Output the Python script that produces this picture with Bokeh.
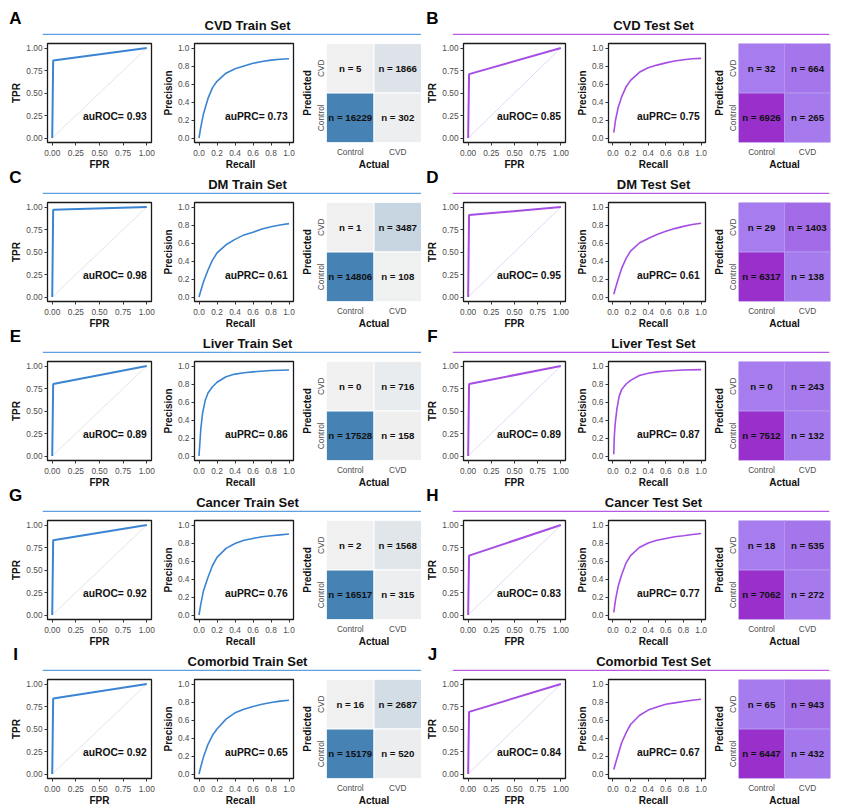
from bokeh.plotting import figure
from bokeh.layouts import row, column
from bokeh.models import (Range1d, FactorRange, FixedTicker, NumeralTickFormatter,
                          Span, Label, LinearColorMapper, ColumnDataSource)
from bokeh.transform import transform
from bokeh.embed import file_html
from bokeh.resources import INLINE
from bokeh.core.properties import value

FONT = "Liberation Sans"

# ---------------- data ----------------
letters = ["A", "B", "C", "D", "E", "F", "G", "H", "I", "J"]
titles = ["CVD Train Set", "CVD Test Set", "DM Train Set", "DM Test Set",
          "Liver Train Set", "Liver Test Set", "Cancer Train Set", "Cancer Test Set",
          "Comorbid Train Set", "Comorbid Test Set"]
is_test = [False, True, False, True, False, True, False, True, False, True]

auroc = [0.93, 0.85, 0.98, 0.95, 0.89, 0.89, 0.92, 0.83, 0.92, 0.84]
auprc = [0.73, 0.75, 0.61, 0.61, 0.86, 0.87, 0.76, 0.77, 0.65, 0.67]

roc_fpr = [[0, 0.01, 1.0]] * 10
roc_tpr = [[0, 0.86, 1.0], [0, 0.71, 1.0], [0, 0.97, 1.0], [0, 0.91, 1.0],
           [0, 0.80, 1.0], [0, 0.80, 1.0], [0, 0.83, 1.0], [0, 0.66, 1.0],
           [0, 0.84, 1.0], [0, 0.69, 1.0]]
chance_line = [0.0, 1.0]

recall_train = [0, 0.02, 0.05, 0.1, 0.15, 0.2, 0.3, 0.4, 0.5, 0.6, 0.7, 0.8, 0.9, 1.0]
recall_test = [0.01, 0.03, 0.06, 0.1, 0.15, 0.2, 0.3, 0.4, 0.5, 0.6, 0.7, 0.8, 0.9, 1.0]
recall_liver_train = [0, 0.01, 0.02, 0.04, 0.07, 0.1, 0.15, 0.2, 0.3, 0.4, 0.5, 0.6, 0.8, 1.0]
recall_liver_test = [0.01, 0.015, 0.025, 0.045, 0.07, 0.1, 0.15, 0.2, 0.3, 0.4, 0.5, 0.6, 0.8, 1.0]
pr_recall = [recall_train, recall_test, recall_train, recall_test,
             recall_liver_train, recall_liver_test, recall_train, recall_test,
             recall_train, recall_test]
pr_precision = [
    [0, 0.12, 0.27, 0.44, 0.56, 0.63, 0.72, 0.77, 0.80, 0.83, 0.85, 0.865, 0.875, 0.88],
    [0.06, 0.20, 0.34, 0.46, 0.57, 0.64, 0.73, 0.78, 0.81, 0.835, 0.855, 0.87, 0.88, 0.885],
    [0, 0.07, 0.17, 0.30, 0.41, 0.49, 0.58, 0.64, 0.69, 0.72, 0.755, 0.78, 0.80, 0.815],
    [0.03, 0.10, 0.20, 0.32, 0.43, 0.51, 0.60, 0.65, 0.695, 0.73, 0.76, 0.785, 0.805, 0.82],
    [0, 0.15, 0.30, 0.48, 0.62, 0.70, 0.77, 0.82, 0.88, 0.91, 0.925, 0.935, 0.95, 0.955],
    [0.02, 0.20, 0.35, 0.52, 0.66, 0.74, 0.80, 0.84, 0.895, 0.92, 0.935, 0.945, 0.955, 0.96],
    [0, 0.12, 0.27, 0.42, 0.55, 0.64, 0.74, 0.795, 0.83, 0.85, 0.87, 0.88, 0.89, 0.90],
    [0.03, 0.17, 0.32, 0.45, 0.58, 0.66, 0.75, 0.80, 0.83, 0.85, 0.87, 0.88, 0.895, 0.905],
    [0, 0.08, 0.19, 0.33, 0.43, 0.50, 0.61, 0.68, 0.72, 0.75, 0.775, 0.795, 0.81, 0.82],
    [0.05, 0.12, 0.22, 0.35, 0.46, 0.55, 0.65, 0.71, 0.745, 0.775, 0.79, 0.805, 0.82, 0.83],
]

classes = ["Control", "CVD"]
cm_predCVD_actControl = [5, 32, 1, 29, 0, 0, 2, 18, 16, 65]
cm_predCVD_actCVD = [1866, 664, 3487, 1403, 716, 243, 1568, 535, 2687, 943]
cm_predControl_actControl = [16229, 6926, 14806, 6317, 17528, 7512, 16517, 7062, 15179, 6447]
cm_predControl_actCVD = [302, 265, 108, 138, 158, 132, 315, 272, 520, 432]

roc_ticks = [0, 0.25, 0.5, 0.75, 1.0]
pr_ticks = [0, 0.2, 0.4, 0.6, 0.8, 1.0]
x_titles = ["FPR", "Recall", "Actual"]

# ---------------- styles ----------------
TRAIN = dict(line="#3A84D2", rule="#5FA0E0", diag="#DADADA",
             low=(240, 240, 240), high=(70, 130, 180), cell_line="white")
TEST = dict(line="#A64DE3", rule="#B45AE6", diag="#D2C8F4",
            low=(166, 124, 238), high=(153, 48, 204), cell_line="#B494F0")

# layout geometry (pixels): left half / right half
GEO = {
    True: dict(letter_w=42, letter_x=15, title_x=205, title_pad=0,
               roc_l=47, roc_f=104, roc_r=8, pr_l=28, pr_f=106, pr_r=4,
               cm_l=29, cm_f=95, cm_r=0),
    False: dict(letter_w=31, letter_x=11, title_x=201, title_pad=3,
                roc_l=42, roc_f=102, roc_r=8, pr_l=28, pr_f=104, pr_r=4,
                cm_l=29, cm_f=92, cm_r=2),
}
for g in GEO.values():
    g["total"] = sum(g[k + s] for k in ("roc", "pr", "cm") for s in ("_l", "_f", "_r"))

BORDER_TOP = 8
FRAME_H = 99
BORDER_BOTTOM = 17
PLOT_H = BORDER_TOP + FRAME_H + BORDER_BOTTOM
BAND_H = 159 - PLOT_H   # strip holding previous row's axis titles + this row's header
FOOT_H = 12
XTITLE_DROP = 22        # px from frame bottom to centre of an x-axis title


def make_palette(lo, hi, n=256):
    out = []
    for i in range(n):
        t = i / (n - 1)
        c = tuple(int(round(lo[k] + (hi[k] - lo[k]) * t)) for k in range(3))
        out.append("#%02x%02x%02x" % c)
    return out


def base_fig(**kw):
    p = figure(toolbar_location=None, output_backend="svg", **kw)
    p.grid.visible = False
    p.background_fill_color = "white"
    p.border_fill_color = "white"
    return p


def style_axes(p):
    for ax in p.axis:
        ax.axis_line_color = None
        ax.major_tick_line_color = "#333333"
        ax.major_tick_out = 3
        ax.major_tick_in = 0
        ax.minor_tick_line_color = None
        ax.major_label_text_font = FONT
        ax.major_label_text_font_size = "8.3px"
        ax.major_label_text_color = "#4D4D4D"
        ax.major_label_standoff = 2
        ax.axis_label_text_font = FONT
        ax.axis_label_text_font_size = "10px"
        ax.axis_label_text_font_style = "bold"
        ax.axis_label_text_color = "#111111"
        ax.axis_label_standoff = 1
    p.xaxis.major_label_standoff = 4
    p.outline_line_color = "#1A1A1A"
    p.outline_line_width = 1.3


def band(left, h, cur=None, prev=None):
    """Strip with the axis titles of the row above (prev) and the header of row cur."""
    g = GEO[left]
    lw = g["letter_w"]
    tw = g["total"] - lw - g["title_pad"]
    lf = base_fig(width=lw, height=h, x_range=Range1d(0, lw), y_range=Range1d(0, h),
                  x_axis_location=None, y_axis_location=None, min_border=0)
    lf.outline_line_color = None
    tf = base_fig(width=tw + g["title_pad"], height=h, x_range=Range1d(0, tw),
                  y_range=Range1d(0, h), x_axis_location=None, y_axis_location=None,
                  min_border=0)
    tf.min_border_right = g["title_pad"]
    tf.outline_line_color = None
    if cur is not None:
        st = TEST if is_test[cur] else TRAIN
        lf.text(x=[g["letter_x"]], y=[17], text=[letters[cur]], text_align="center",
                text_baseline="middle", text_font=value(FONT), text_font_size="17px",
                text_font_style="bold", text_color="#000000")
        tf.text(x=[g["title_x"]], y=[10], text=[titles[cur]], text_align="center",
                text_baseline="middle", text_font=value(FONT), text_font_size="13px",
                text_font_style="bold", text_color="#111111")
        tf.add_layout(Span(location=1, dimension="width", line_color=st["rule"],
                           line_width=1.6))
    if prev is not None:
        roc_c = g["roc_l"] + g["roc_f"] / 2
        pr_c = g["roc_l"] + g["roc_f"] + g["roc_r"] + g["pr_l"] + g["pr_f"] / 2
        cm_c = (g["roc_l"] + g["roc_f"] + g["roc_r"] + g["pr_l"] + g["pr_f"] + g["pr_r"]
                + g["cm_l"] + g["cm_f"] / 2)
        ty = h - (XTITLE_DROP - BORDER_BOTTOM)
        tf.text(x=[roc_c - lw, pr_c - lw, cm_c - lw], y=[ty] * 3, text=x_titles,
                text_align="center", text_baseline="middle", text_font=value(FONT),
                text_font_size="10px", text_font_style="bold", text_color="#111111")
    return row(lf, tf)


def unit_fig(left, kind):
    g = GEO[left]
    l, f, r = g[kind + "_l"], g[kind + "_f"], g[kind + "_r"]
    return base_fig(width=l + f + r, height=PLOT_H,
                    x_range=Range1d(-0.05, 1.05), y_range=Range1d(-0.05, 1.05),
                    min_border_left=l, min_border_right=r,
                    min_border_top=BORDER_TOP, min_border_bottom=BORDER_BOTTOM)


def roc_fig(i, left):
    st = TEST if is_test[i] else TRAIN
    p = unit_fig(left, "roc")
    p.line(chance_line, chance_line, line_color=st["diag"], line_width=0.7)
    p.line(roc_fpr[i], roc_tpr[i], line_color=st["line"], line_width=2)
    p.yaxis.axis_label = "TPR"
    for ax in p.axis:
        ax.ticker = FixedTicker(ticks=roc_ticks)
        ax.formatter = NumeralTickFormatter(format="0.00")
    style_axes(p)
    p.add_layout(Label(x=1.0, y=0.24, text="auROC= %.2f" % auroc[i], text_align="right",
                       text_baseline="middle", text_font=FONT, text_font_size="10.3px",
                       text_font_style="bold", text_color="#111111"))
    return p


def pr_fig(i, left):
    st = TEST if is_test[i] else TRAIN
    p = unit_fig(left, "pr")
    p.line(pr_recall[i], pr_precision[i], line_color=st["line"], line_width=1.6)
    p.yaxis.axis_label = "Precision"
    for ax in p.axis:
        ax.ticker = FixedTicker(ticks=pr_ticks)
        ax.formatter = NumeralTickFormatter(format="0.0")
    style_axes(p)
    p.add_layout(Label(x=0.985, y=0.24, text="auPRC= %.2f" % auprc[i], text_align="right",
                       text_baseline="middle", text_font=FONT, text_font_size="10.3px",
                       text_font_style="bold", text_color="#111111"))
    return p


def cm_fig(i, left):
    g = GEO[left]
    st = TEST if is_test[i] else TRAIN
    p = base_fig(width=g["cm_l"] + g["cm_f"] + g["cm_r"], height=PLOT_H,
                 x_range=FactorRange(factors=classes, range_padding=0),
                 y_range=FactorRange(factors=classes, range_padding=0),
                 min_border_left=g["cm_l"], min_border_right=g["cm_r"],
                 min_border_top=BORDER_TOP, min_border_bottom=BORDER_BOTTOM)
    counts = [cm_predCVD_actControl[i], cm_predCVD_actCVD[i],
              cm_predControl_actControl[i], cm_predControl_actCVD[i]]
    src = ColumnDataSource(dict(
        actual=["Control", "CVD", "Control", "CVD"],
        predicted=["CVD", "CVD", "Control", "Control"],
        n=counts,
        lab=["n = %d" % c for c in counts]))
    mapper = LinearColorMapper(palette=make_palette(st["low"], st["high"]), low=0, high=max(counts))
    p.rect(x="actual", y="predicted", width=1, height=1, source=src,
           fill_color=transform("n", mapper), line_color=st["cell_line"], line_width=1)
    p.text(x="actual", y="predicted", text="lab", source=src, text_align="center",
           text_baseline="middle", text_font=value(FONT), text_font_size="9.7px",
           text_font_style="bold", text_color="#111111")
    style_axes(p)
    for ax in p.axis:
        ax.major_tick_line_color = None
        ax.major_tick_out = 0
        ax.major_label_text_font_size = "8.3px"
    p.yaxis.axis_label = "Predicted"
    p.yaxis.axis_label_standoff = 0
    p.xaxis.major_label_standoff = 4
    p.yaxis.major_label_standoff = 1
    p.yaxis.major_label_orientation = "vertical"
    p.outline_line_color = None
    return p


def half(left):
    parts = []
    idx = [2 * r + (0 if left else 1) for r in range(5)]
    for r, i in enumerate(idx):
        parts.append(band(left, BAND_H, cur=i, prev=None if r == 0 else idx[r - 1]))
        parts.append(row(roc_fig(i, left), pr_fig(i, left), cm_fig(i, left)))
    parts.append(band(left, FOOT_H, cur=None, prev=idx[-1]))
    return column(*parts)


layout = row(half(True), half(False))

open("out.html", "w").write(file_html(layout, INLINE))
